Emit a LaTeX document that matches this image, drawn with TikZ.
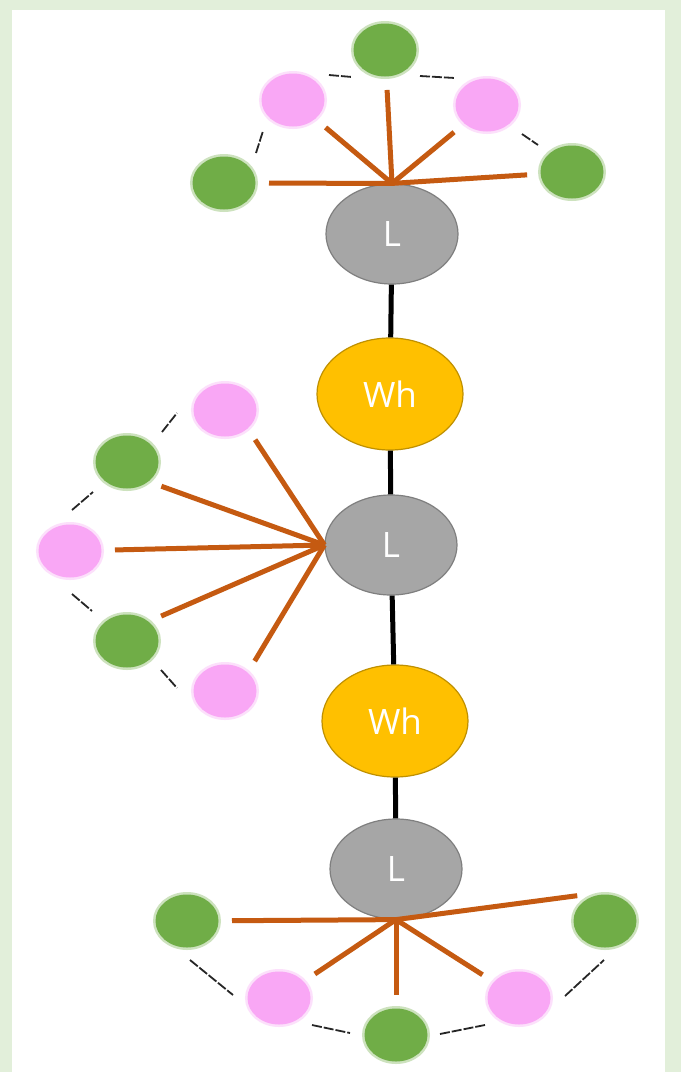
\documentclass[tikz,border=0pt]{standalone}
\usepackage{fontspec}
\setmainfont{Open Sans}
\usetikzlibrary{shapes.geometric}
\definecolor{frame}{HTML}{E2EFDA}
\definecolor{leafg}{HTML}{70AD47}
\definecolor{leafp}{HTML}{F9A7F5}
\definecolor{gold}{HTML}{FFC000}
\definecolor{goldedge}{HTML}{BF9000}
\definecolor{stone}{HTML}{A6A6A6}
\definecolor{stoneedge}{HTML}{7F7F7F}
\definecolor{rust}{HTML}{C55A11}
\tikzset{
  ball/.style={ellipse, minimum width=63pt, minimum height=53pt, inner sep=0pt, line width=5pt, draw opacity=0.35},
  gball/.style={ball, fill=leafg, draw=leafg},
  pball/.style={ball, fill=leafp, draw=leafp},
  lnode/.style={ellipse, fill=stone, draw=stoneedge, line width=1.2pt, inner sep=0pt,
    minimum width=132pt, minimum height=100pt, text=white, font=\fontsize{35}{35}\selectfont},
  whnode/.style={lnode, fill=gold, draw=goldedge, minimum width=146pt, minimum height=112pt},
  spoke/.style={rust, line width=5pt, shorten >=11pt},
  stem/.style={black, line width=5pt},
  ring/.style={black!85, line width=1.8pt, dash pattern=on 10pt off 2pt}
}
\begin{document}
\begin{tikzpicture}[x=1pt,y=-1pt]
\fill[frame] (0,0) rectangle (681,1072);
\fill[white] (12,10) rectangle (665,1072);
\useasboundingbox (0,0) rectangle (681,1072);

% backbone
\node[lnode] (Lt) at (392,234) {L};
\node[whnode] (Wa) at (390,394) {Wh};
\node[lnode] (Lm) at (391,545) {L};
\node[whnode] (Wb) at (395,721) {Wh};
\node[lnode] (Lb) at (396,869) {L};

\draw[stem] (Lt) -- (Wa);
\draw[stem] (Wa) -- (Lm);
\draw[stem] (Lm) -- (Wb);
\draw[stem] (Wb) -- (Lb);

% top group
\node[gball] (tgl) at (224,183) {};
\node[pball] (tpl) at (293,100) {};
\node[gball] (tgt) at (385,50) {};
\node[pball] (tpr) at (487,105) {};
\node[gball] (tgr) at (572,172) {};

\foreach \b in {tgl,tpl,tgt,tpr,tgr}
  \draw[spoke] (Lt.north) -- (\b);

\draw[ring] (tgt) ++(-56,25) -- ++(23,2);
\draw[ring] (tgt) ++(35,26) -- ++(35,2);
\draw[ring] (tgl) ++(32,-30) -- ++(7,-22);
\draw[ring] (tgr) ++(-50,-38) -- ++(16,11);

% middle group
\node[pball] (mpt) at (225,410) {};
\node[gball] (mga) at (127,462) {};
\node[pball] (mpm) at (70,551) {};
\node[gball] (mgb) at (127,641) {};
\node[pball] (mpb) at (225,691) {};

\foreach \b in {mpt.south east,mga.south east,mpm,mgb.north east,mpb.north east}
  \draw[spoke] (Lm.west) -- (\b);

\draw[ring] (mga) ++(35,-30) -- ++(15,-19);
\draw[ring] (mga) ++(-55,48) -- ++(21,-18);
\draw[ring] (mgb) ++(-55,-47) -- ++(20,17);
\draw[ring] (mgb) ++(34,29) -- ++(16,18);

% bottom group
\node[gball] (bgl) at (187,921) {};
\node[pball] (bpl) at (279,998) {};
\node[gball] (bgb) at (396,1035) {};
\node[pball] (bpr) at (519,998) {};
\node[gball] (bgr) at (605,921) {};

\foreach \b in {bgl,bpl,bgb,bpr}
  \draw[spoke] (Lb.south) -- (\b);
\draw[spoke, shorten >=28pt] (Lb.south) -- (bgr.north);

\draw[ring] (bgl) ++(3,39) -- ++(43,35);
\draw[ring] (bgb) ++(-84,-10) -- ++(38,8);
\draw[ring] (bgb) ++(44,-1) -- ++(45,-9);
\draw[ring] (bgr) ++(-40,75) -- ++(39,-36);
\end{tikzpicture}
\end{document}
